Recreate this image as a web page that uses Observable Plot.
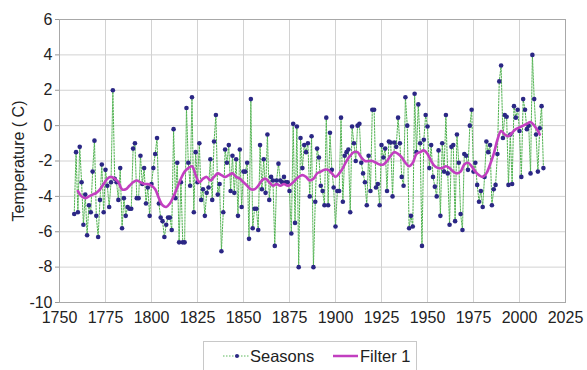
<!DOCTYPE html>
<html>
<head>
<meta charset="utf-8">
<script src="https://cdn.jsdelivr.net/npm/d3@7"></script>
<script src="https://cdn.jsdelivr.net/npm/@observablehq/plot@0.6"></script>
<style>
  html, body { margin: 0; padding: 0; background: #fff; }
  body { width: 587px; height: 370px; position: relative; overflow: hidden; font-family: "Liberation Sans", Arial, sans-serif; }
  #chart svg { display: block; }
  #legend { position: absolute; left: 203px; top: 341px; width: 214px; height: 32px; border: 1px solid #c8c8c8; box-sizing: border-box; background: #fff; }
  #legend .item { position: absolute; top: 0; height: 28px; display: flex; align-items: center; font-size: 16.5px; color: #222; }
  #legend svg { display: block; margin-right: 1px; }
</style>
</head>
<body>
<div id="chart"></div>
<div id="legend">
  <div class="item" style="left:19px">
    <svg width="26" height="10"><line x1="0" y1="5" x2="26" y2="5" stroke="#5cb85c" stroke-width="1" stroke-dasharray="1.5,1.5"/><circle cx="14" cy="5" r="2" fill="#2b2785"/></svg>Seasons
  </div>
  <div class="item" style="left:129px">
    <svg width="26" height="10"><line x1="0" y1="5" x2="25" y2="5" stroke="#c23fc0" stroke-width="2.5"/></svg>Filter 1
  </div>
</div>
<script>
// Seasons: yearly values, first year 1758
const seasonsStart = 1758;
const seasonsValues = [
  -5.0, -1.5, -4.9, -1.2, -3.2, -5.6, -3.9, -6.2, -4.5, -4.9,   // 1758-1767
  -2.6, -0.85, -5.1, -6.3, -4.2, -2.2, -4.9, -2.5, -3.4, -4.6,  // 1768-1777
  -3.2, 2.0, -3.0, -3.2, -4.2, -2.4, -5.8, -4.1, -5.1, -4.6,    // 1778-1787
  -4.7, -4.7, -1.3, -1.0, -4.1, -4.1, -1.7, -3.3, -2.4, -4.4,   // 1788-1797
  -3.5, -5.1, -3.3, -2.4, -1.6, -0.7, -4.4, -5.2, -5.4, -6.3,   // 1798-1807
  -5.6, -5.2, -5.2, -5.9, -0.2, -4.1, -2.1, -6.6, -3.2, -6.6,   // 1808-1817
  -6.6, 1.0, -2.1, -3.4, 1.6, -4.9, -1.5, -3.2, -1.0, -4.2,     // 1818-1827
  -3.6, -5.1, -3.8, -3.5, -1.9, -4.2, -0.9, 0.6, -3.9, -3.3,    // 1828-1837
  -7.1, -4.9, -1.35, -2.1, -1.1, -3.7, -1.7, -3.8, -1.9, -5.1,  // 1838-1847
  -1.35, -4.6, -2.6, -2.6, -2.1, -6.4, 1.5, -5.8, -4.7, -4.7,   // 1848-1857
  -5.9, -1.1, -3.6, -1.9, -3.8, -0.5, -4.2, -2.9, -3.1, -6.8,   // 1858-1867
  -3.1, -2.15, -3.1, -3.2, -2.9, -3.2, -3.2, -3.7, -6.1, 0.1,   // 1868-1877
  -5.5, -0.05, -8.0, -0.7, -2.4, -1.1, -1.5, -1.0, -4.0, -0.6,  // 1878-1887
  -8.0, -4.3, -1.3, -1.8, -3.4, -3.7, -4.5, 0.45, -4.5, -0.4,   // 1888-1897
  -2.5, -3.5, -5.7, -3.7, -3.7, 0.45, -4.3, -1.7, -1.5, -1.35,  // 1898-1907
  -4.9, -0.05, -1.0, -2.0, 0.0, 0.1, -2.1, -2.7, -3.2, -4.5,    // 1908-1917
  -1.7, -3.7, 0.9, 0.9, -3.5, -3.3, -4.5, -1.1, -1.8, -1.3,     // 1918-1927
  -3.7, -0.9, -0.95, -4.0, -0.95, -1.2, 0.45, -1.0, -2.9, -3.4, // 1928-1937
  1.6, 0.0, -5.8, -5.1, -5.7, 1.8, -1.5, 1.2, -1.0, -6.8,       // 1938-1947
  -0.8, 0.6, -0.05, -2.4, -1.1, -2.9, -3.45, -4.0, -1.4, -5.1,  // 1948-1957
  -1.0, -2.6, 0.6, -2.7, -5.6, -1.2, -1.1, -5.4, -0.5, -2.1,    // 1958-1967
  -5.0, -5.9, -1.6, -1.7, -2.5, 0.0, 0.9, -2.6, -2.1, -3.35,    // 1968-1977
  -4.3, -3.7, -4.6, -2.9, -0.9, -1.5, -1.1, -4.5, -3.6, -3.35,  // 1978-1987
  -1.6, 2.5, 3.4, -0.7, 0.6, 0.5, -3.35, -0.5, -3.3, 1.1,       // 1988-1997
  0.45, 0.9, -0.3, -2.9, 1.5, 0.9, -0.2, 0.0, -2.7, 4.0,        // 1998-2007
  1.5, -0.5, -2.6, -0.15, 1.1, -2.4                             // 2008-2013
];
const seasonsYears = seasonsValues.map((_, i) => seasonsStart + i);

// Filter 1: smoothed curve
const filterYears = [1760,1762,1764,1766,1768,1770,1772,1774,1776,1778,1780,1782,1784,1786,1788,1790,1792,1794,1796,1798,
  1800,1802,1804,1806,1808,1810,1812,1814,1816,1818,1820,1822,1824,1826,1828,1830,1832,1834,1836,1838,
  1840,1842,1844,1846,1848,1850,1852,1854,1856,1858,1860,1862,1864,1866,1868,1870,1872,1874,1876,1878,
  1880,1882,1884,1886,1888,1890,1892,1894,1896,1898,1900,1902,1904,1906,1908,1910,1912,1914,1916,1918,
  1920,1922,1924,1926,1928,1930,1932,1934,1936,1938,1940,1942,1944,1946,1948,1950,1952,1954,1956,1958,
  1960,1962,1964,1966,1968,1970,1972,1974,1976,1978,1980,1982,1984,1986,1988,1990,1992,1994,1996,1998,
  2000,2002,2004,2006,2008,2010,2011];
const filterValues = [-3.7,-4.0,-4.1,-4.0,-3.9,-3.8,-3.6,-3.3,-3.0,-2.9,-3.0,-3.2,-3.6,-3.6,-3.4,-3.2,-3.1,-3.2,-3.3,-3.3,
  -3.4,-3.6,-4.1,-4.5,-4.6,-4.4,-4.0,-3.5,-3.0,-2.6,-2.4,-2.3,-2.8,-3.2,-3.0,-2.9,-3.1,-2.9,-2.7,-2.8,
  -2.9,-2.8,-2.7,-2.9,-3.0,-3.2,-3.4,-3.6,-3.6,-3.4,-3.1,-3.0,-3.2,-3.4,-3.3,-3.4,-3.3,-3.4,-3.3,-3.1,
  -2.9,-2.8,-2.9,-3.1,-3.0,-2.7,-2.6,-2.5,-2.5,-2.7,-2.9,-2.7,-2.4,-2.0,-1.7,-1.5,-1.5,-1.8,-2.0,-2.0,
  -2.0,-2.1,-2.2,-2.2,-2.0,-1.7,-1.5,-1.6,-1.8,-2.1,-2.3,-2.1,-1.6,-1.5,-1.4,-1.6,-2.0,-2.3,-2.4,-2.4,
  -2.3,-2.4,-2.6,-2.7,-2.6,-2.2,-2.1,-2.3,-2.6,-2.8,-2.9,-2.7,-2.2,-1.6,-0.8,-0.3,-0.5,-0.6,-0.4,-0.2,
  -0.1,0.0,0.1,0.2,0.0,-0.3,-0.5];

const xTicks = [1750,1775,1800,1825,1850,1875,1900,1925,1950,1975,2000,2025];
const yTicks = [6,4,2,0,-2,-4,-6,-8,-10];
const yLabel = "Temperature ( C)";

const seasons = seasonsYears.map((x, i) => ({x, y: seasonsValues[i]}));
const filter = filterYears.map((x, i) => ({x, y: filterValues[i]}));

const chart = Plot.plot({
  width: 587,
  height: 331,
  marginLeft: 59,
  marginRight: 22,
  marginTop: 19,
  marginBottom: 29,
  style: {fontFamily: "'Liberation Sans', Arial, sans-serif", fontSize: "16px", color: "#222", background: "#fff"},
  x: {domain: [1750, 2025]},
  y: {domain: [-10, 6]},
  marks: [
    Plot.gridX(xTicks, {stroke: "#d2d2d2", strokeOpacity: 1, strokeWidth: 1}),
    Plot.gridY(yTicks, {stroke: "#d2d2d2", strokeOpacity: 1, strokeWidth: 1}),
    Plot.frame({stroke: "#a8a8a8"}),
    Plot.axisX(xTicks, {tickSize: 0, tickPadding: 9, tickFormat: d => String(d), label: null, fontSize: 16}),
    Plot.axisY(yTicks, {tickSize: 4, tickPadding: 3, label: null, stroke: "#999", fontSize: 16, tickFormat: d => String(d)}),
    Plot.text([yLabel], {frameAnchor: "left", rotate: -90, dx: -41, textAnchor: "middle", fontSize: 16, fill: "#222"}),
    Plot.line(seasons, {x: "x", y: "y", stroke: "#52b352", strokeWidth: 1, strokeDasharray: "1.6,1.4"}),
    Plot.dot(seasons, {x: "x", y: "y", r: 2.3, fill: "#2b2785", stroke: "none"}),
    Plot.line(filter, {x: "x", y: "y", stroke: "#c23fc0", strokeWidth: 2.6, curve: "catmull-rom"})
  ]
});
document.getElementById("chart").append(chart);
</script>
</body>
</html>
